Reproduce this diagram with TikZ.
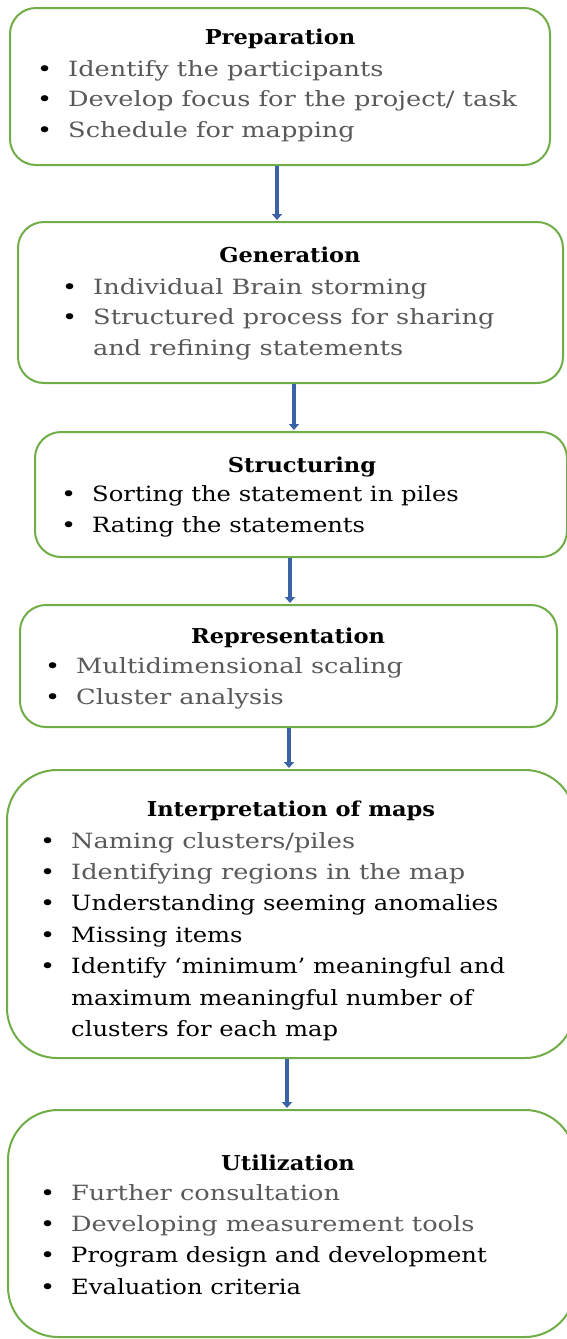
\documentclass[tikz,border=0pt]{standalone}
\usepackage{fontspec}
\setmainfont[FakeStretch=1.22, Ligatures=TeX]{DejaVu Serif}
\newfontfamily\headfont[FakeStretch=1.10, Ligatures=TeX]{DejaVu Serif}
\newfontfamily\plainfont[FakeStretch=1.155, Ligatures=TeX]{DejaVu Serif}
\usetikzlibrary{arrows.meta}
\definecolor{boxgreen}{HTML}{70AD47}
\definecolor{arrowblue}{HTML}{3A62A7}
\definecolor{txtgray}{HTML}{595959}
% bulleted lines (grey and black), and wrapped continuation lines
\newcommand\itm[1]{\makebox[31pt][l]{\textbullet}\textcolor{txtgray}{#1}}
\newcommand\itmb[1]{\makebox[31pt][l]{\textbullet}{\plainfont #1}}
\newcommand\cnt[1]{\hspace*{31pt}\textcolor{txtgray}{#1}}
\newcommand\cntb[1]{\hspace*{31pt}{\plainfont #1}}
% top-aligned list so that the node's base is its first line
\newenvironment{stagelist}{\begin{tabular}[t]{@{}l@{}}}{\end{tabular}}
\tikzset{
  stage/.style={draw=boxgreen, line width=2pt, rounded corners=26pt, inner sep=0pt},
  bigstage/.style={stage, rounded corners=50pt},
  title/.style={anchor=base, inner sep=0pt, font=\fontsize{20.5}{30}\selectfont\headfont\bfseries},
  body/.style={anchor=base west, inner sep=0pt, font=\fontsize{21}{31.4}\selectfont},
  tight/.style={font=\fontsize{21}{30.6}\selectfont},
  flow/.style={draw=arrowblue, line width=4.5pt, -{Triangle[width=10pt,length=6pt]}, shorten >=1pt}
}
\begin{document}
\begin{tikzpicture}[x=1pt, y=-1pt]
\useasboundingbox (0,0) rectangle (567,1339);

% stage boxes
\node[stage, minimum width=540pt, minimum height=157pt] (b1) at (280,86.5) {};
\node[stage, minimum width=545pt, minimum height=161pt] (b2) at (290.5,302.5) {};
\node[stage, minimum width=532pt, minimum height=125pt] (b3) at (301,494.5) {};
\node[stage, minimum width=537pt, minimum height=122pt] (b4) at (288.5,666) {};
\node[bigstage, minimum width=568pt, minimum height=288pt] (b5) at (291,914) {};
\node[bigstage, minimum width=567pt, minimum height=227pt] (b6) at (291.5,1223.5) {};

% Preparation
\node[title] (h1) at (280,44) {Preparation};
\node[body, tight] (t1) at (37,76) {\begin{stagelist}
  \itm{Identify the participants}\\
  \itm{Develop focus for the project/ task}\\
  \itm{Schedule for mapping}\end{stagelist}};

% Generation
\node[title] (h2) at (290,262) {Generation};
\node[body, tight] (t2) at (62,294) {\begin{stagelist}
  \itm{Individual Brain storming}\\
  \itm{Structured process for sharing}\\
  \cnt{and refining statements}\end{stagelist}};

% Structuring
\node[title] (h3) at (302,472) {Structuring};
\node[body] (t3) at (61,501) {\begin{stagelist}
  \itmb{Sorting the statement in piles}\\
  \itmb{Rating the statements}\end{stagelist}};

% Representation
\node[title] (h4) at (288,643) {Representation};
\node[body] (t4) at (45,673) {\begin{stagelist}
  \itm{Multidimensional scaling}\\
  \itm{Cluster analysis}\end{stagelist}};

% Interpretation of maps
\node[title] (h5) at (291,816) {Interpretation of maps};
\node[body] (t5) at (40,848) {\begin{stagelist}
  \itm{Naming clusters/piles}\\
  \itm{Identifying regions in the map}\\
  \itmb{Understanding seeming anomalies}\\
  \itmb{Missing items}\\
  \itmb{Identify ‘minimum’ meaningful and}\\
  \cntb{maximum meaningful number of}\\
  \cntb{clusters for each map}\end{stagelist}};

% Utilization
\node[title] (h6) at (288,1170) {Utilization};
\node[body] (t6) at (40,1200) {\begin{stagelist}
  \itm{Further consultation}\\
  \itm{Developing measurement tools}\\
  \itmb{Program design and development}\\
  \itmb{Evaluation criteria}\end{stagelist}};

% connectors
\draw[flow] (b1.south -| 277,0) -- (b2.north -| 277,0);
\draw[flow] (b2.south -| 294,0) -- (b3.north -| 294,0);
\draw[flow] (b3.south -| 290,0) -- (b4.north -| 290,0);
\draw[flow] (b4.south -| 289,0) -- (b5.north -| 289,0);
\draw[flow] (b5.south -| 287,0) -- (b6.north -| 287,0);
\end{tikzpicture}
\end{document}
